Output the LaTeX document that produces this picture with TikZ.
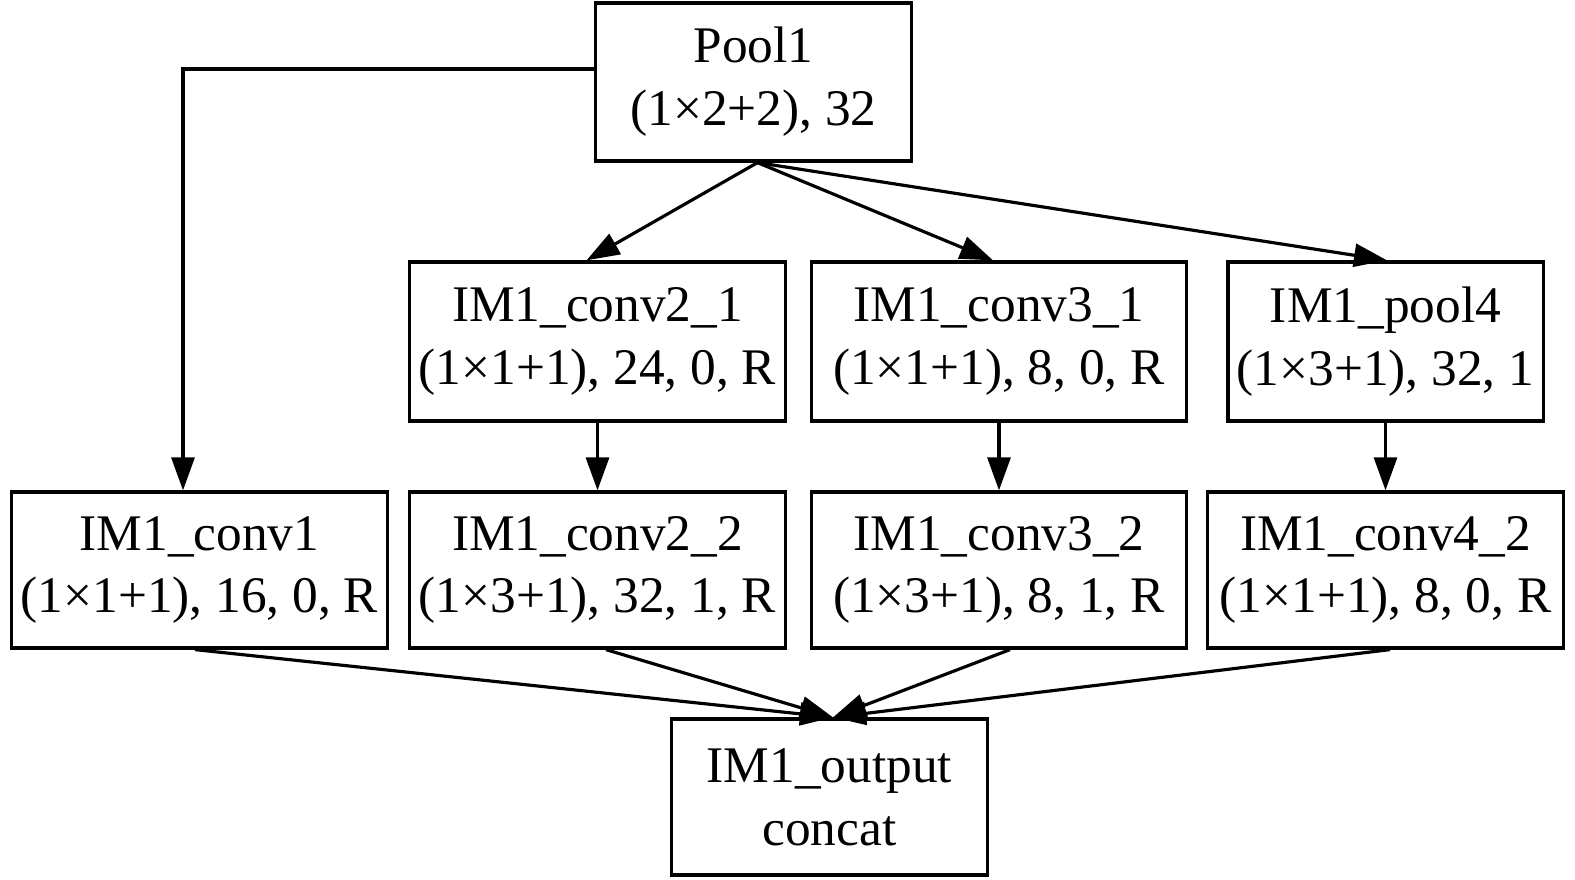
\documentclass[tikz,border=0pt]{standalone}
\usepackage{fontspec}
\setmainfont{Liberation Serif}
\usetikzlibrary{arrows.meta,calc}
\begin{document}
\begin{tikzpicture}[x=0.01cm,y=-0.01cm,
  box/.style={draw,line width=0.9pt,rectangle,inner sep=0pt,align=center,
    font=\fontsize{14.6}{17.9}\selectfont},
  arr/.style={line width=0.9pt,-{Triangle[length=3.3mm,width=2.3mm]}},
  ln/.style={line width=0.9pt}]
\useasboundingbox (0,0) rectangle (1575,880);
\node[box,minimum width=3.15cm,minimum height=1.58cm] (pool1) at (753.5,82) {Pool1\\(1×2+2), 32};
\node[box,minimum width=3.75cm,minimum height=1.59cm] (conv21) at (597.5,341.5) {IM1\_conv2\_1\\(1×1+1), 24, 0, R};
\node[box,minimum width=3.74cm,minimum height=1.59cm] (conv31) at (999,341.5) {IM1\_conv3\_1\\(1×1+1), 8, 0, R};
\node[box,minimum width=3.15cm,minimum height=1.59cm] (pool4) at (1385.5,341.5) {IM1\_pool4\\(1×3+1), 32, 1};
\node[box,minimum width=3.75cm,minimum height=1.56cm] (conv1) at (199.5,570) {IM1\_conv1\\(1×1+1), 16, 0, R};
\node[box,minimum width=3.75cm,minimum height=1.56cm] (conv22) at (597.5,570) {IM1\_conv2\_2\\(1×3+1), 32, 1, R};
\node[box,minimum width=3.74cm,minimum height=1.56cm] (conv32) at (999,570) {IM1\_conv3\_2\\(1×3+1), 8, 1, R};
\node[box,minimum width=3.55cm,minimum height=1.56cm] (conv42) at (1385.5,570) {IM1\_conv4\_2\\(1×1+1), 8, 0, R};
\node[box,minimum width=3.15cm,minimum height=1.56cm] (out) at (829.5,797) {IM1\_output\\concat};
% from pool1
\coordinate (ps) at ($(pool1.south)+(4,0)$);
\draw[arr] (ps) -- ($(conv21.north)+(-11,0)$);
\draw[arr] (ps) -- ($(conv31.north)+(-6,0)$);
\draw[arr] (ps) -- ($(pool4.north)+(1.5,0)$);
\draw[arr] ($(pool1.west)+(0,-13)$) -| ($(conv1.north)+(-16.5,0)$);
% vertical
\draw[arr] (conv21.south) -- (conv22.north);
\draw[arr] (conv31.south) -- (conv32.north);
\draw[arr] (pool4.south) -- (conv42.north);
% to output
\coordinate (on) at ($(out.north)+(3.5,0)$);
\draw[arr] ($(conv1.south)+(-4.5,0)$) -- (on);
\draw[arr] ($(conv22.south)+(8.5,0)$) -- (on);
\draw[arr] ($(conv32.south)+(11,0)$) -- (on);
\draw[arr] ($(conv42.south)+(4.5,0)$) -- (on);
\end{tikzpicture}
\end{document}
